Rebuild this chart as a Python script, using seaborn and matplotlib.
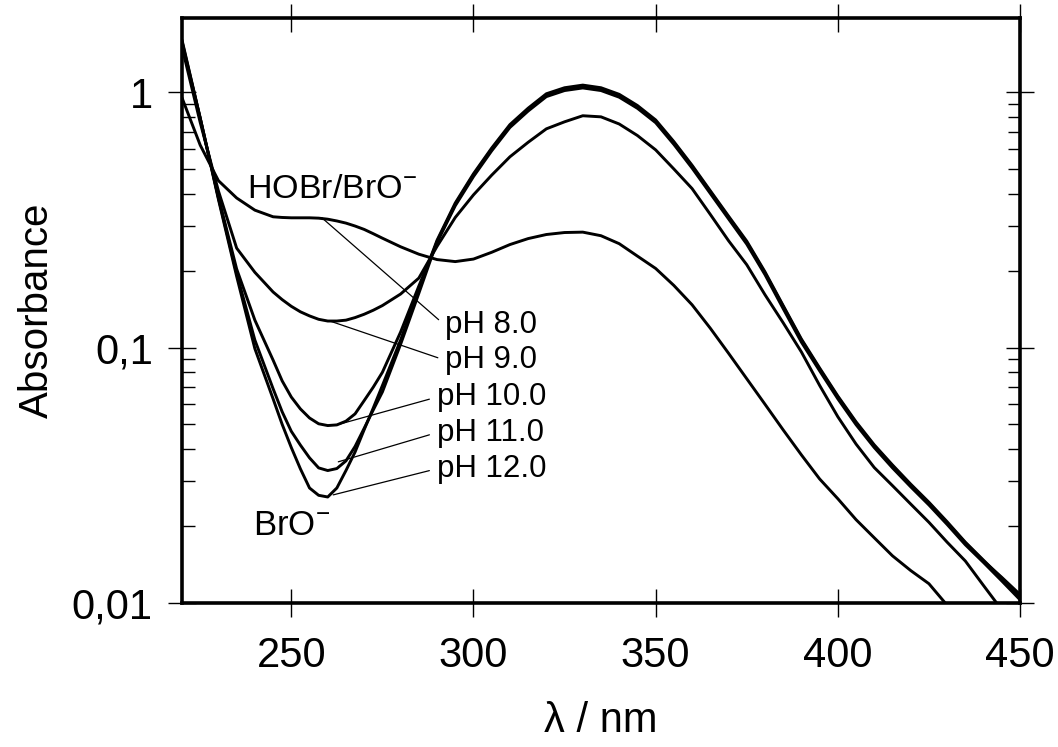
import numpy as np
import pandas as pd
import matplotlib
matplotlib.use("Agg")
import matplotlib.pyplot as plt
import matplotlib.ticker as mticker
import seaborn as sns

# ---------------- data ----------------
wavelength = [220, 225, 230, 235, 240, 245, 247.5, 250, 252.5, 255, 257.5, 260,
              262.5, 265, 267.5, 270, 272.5, 275, 280, 285, 290, 295, 300, 305,
              310, 315, 320, 325, 330, 335, 340, 345, 350, 355, 360, 365,
              370, 375, 380, 385, 390, 395, 400, 405, 410, 415,
              420, 425, 430, 435, 440, 445, 450]

abs_ph8 = [0.95, 0.62, 0.45, 0.385, 0.345, 0.325, 0.323, 0.322, 0.322, 0.322, 0.321, 0.318,
           0.313, 0.307, 0.299, 0.29, 0.279, 0.268, 0.248, 0.232, 0.221, 0.217, 0.222, 0.236,
           0.253, 0.267, 0.277, 0.282, 0.283, 0.274, 0.255, 0.228, 0.204, 0.175, 0.147, 0.119,
           0.095, 0.0755, 0.060, 0.0476, 0.038, 0.0306, 0.0256, 0.0212, 0.018, 0.0153,
           0.0134, 0.0119, 0.0098, 0.0085, 0.0075, 0.0068, 0.006]

abs_ph9 = [1.5, 0.76, 0.41, 0.245, 0.197, 0.165, 0.154, 0.145, 0.138, 0.133, 0.129, 0.127,
           0.127, 0.128, 0.131, 0.135, 0.140, 0.146, 0.162, 0.187, 0.249, 0.323, 0.396, 0.473,
           0.558, 0.636, 0.718, 0.765, 0.808, 0.80, 0.75, 0.676, 0.594, 0.50, 0.419, 0.332,
           0.262, 0.211, 0.161, 0.125, 0.0961, 0.0711, 0.0536, 0.0419, 0.0339, 0.0288,
           0.0244, 0.0207, 0.0173, 0.0146, 0.0117, 0.0094, 0.008]

abs_ph10 = [1.55, 0.79, 0.388, 0.203, 0.128, 0.0893, 0.074, 0.064, 0.0575, 0.053, 0.0503, 0.0495,
            0.0498, 0.0515, 0.055, 0.062, 0.070, 0.080, 0.115, 0.174, 0.258, 0.359, 0.467, 0.589,
            0.727, 0.843, 0.96, 1.014, 1.038, 1.014, 0.955, 0.864, 0.759, 0.624, 0.504, 0.401,
            0.319, 0.254, 0.193, 0.142, 0.105, 0.0811, 0.063, 0.0499, 0.0406, 0.0338,
            0.0285, 0.0242, 0.0203, 0.0169, 0.0144, 0.0122, 0.0103]

abs_ph11 = [1.58, 0.79, 0.385, 0.195, 0.107, 0.069, 0.056, 0.047, 0.0415, 0.037, 0.0338, 0.033,
            0.0336, 0.036, 0.041, 0.0483, 0.057, 0.067, 0.103, 0.163, 0.26, 0.364, 0.474, 0.598,
            0.738, 0.856, 0.975, 1.03, 1.054, 1.03, 0.97, 0.877, 0.770, 0.634, 0.512, 0.407,
            0.324, 0.258, 0.196, 0.145, 0.107, 0.0824, 0.064, 0.0507, 0.0412, 0.0344,
            0.0289, 0.0246, 0.0206, 0.0172, 0.0146, 0.0126, 0.0108]

abs_ph12 = [1.6, 0.79, 0.38, 0.19, 0.099, 0.063, 0.050, 0.0406, 0.0335, 0.0282, 0.0264, 0.026,
            0.0282, 0.033, 0.039, 0.0477, 0.058, 0.071, 0.107, 0.17, 0.263, 0.368, 0.479, 0.604,
            0.746, 0.865, 0.985, 1.04, 1.065, 1.04, 0.98, 0.886, 0.778, 0.640, 0.517, 0.411,
            0.327, 0.261, 0.198, 0.146, 0.108, 0.0832, 0.0646, 0.0512, 0.0416, 0.0347,
            0.0292, 0.0248, 0.0208, 0.0173, 0.0147, 0.0125, 0.0105]

ph_labels = ["pH 8.0", "pH 9.0", "pH 10.0", "pH 11.0", "pH 12.0"]
# leader-line anchor on each curve (wavelength, absorbance)
label_anchor_x = [258.4, 260.6, 262.5, 262.9, 261.5]
label_anchor_y = [0.322, 0.127, 0.0498, 0.0357, 0.0265]
# text position (left edge wavelength, baseline absorbance)
label_text_x = [292.2, 292.2, 289.9, 289.9, 289.9]
label_text_y = [0.1137, 0.0830, 0.0595, 0.0432, 0.0312]

x_ticks = [250, 300, 350, 400, 450]
y_ticks = [0.01, 0.1, 1]
y_tick_labels = ["0,01", "0,1", "1"]

# ---------------- build table ----------------
series = {"pH 8.0": abs_ph8, "pH 9.0": abs_ph9, "pH 10.0": abs_ph10,
          "pH 11.0": abs_ph11, "pH 12.0": abs_ph12}
df = pd.concat([pd.DataFrame({"wl": wavelength, "A": v, "pH": k})
                for k, v in series.items()], ignore_index=True)

# ---------------- style ----------------
sns.set_style("ticks")
plt.rcParams["font.family"] = ["Liberation Sans", "DejaVu Sans"]
plt.rcParams["mathtext.fontset"] = "custom"
plt.rcParams["mathtext.rm"] = "Liberation Sans"
plt.rcParams["mathtext.it"] = "Liberation Sans"
for key in ["text.color", "axes.labelcolor", "xtick.color", "ytick.color",
            "axes.edgecolor"]:
    plt.rcParams[key] = "black"

fig = plt.figure(figsize=(10.58, 7.47), dpi=100)
ax = fig.add_axes([182 / 1058, 144 / 747, 838 / 1058, 585 / 747])

sns.lineplot(data=df, x="wl", y="A", hue="pH", units="pH", estimator=None,
             palette=["black"] * 5, linewidth=2.1, legend=False, ax=ax,
             sort=False)

ax.set_yscale("log")
ax.set_xlim(220, 450)
ax.set_ylim(0.01, 1.95)

ax.set_xticks(x_ticks)
ax.set_xticklabels([str(t) for t in x_ticks])
ax.set_yticks(y_ticks)
ax.set_yticklabels(y_tick_labels)
ax.yaxis.set_minor_locator(mticker.LogLocator(base=10, subs=np.arange(2, 10)))
ax.yaxis.set_minor_formatter(mticker.NullFormatter())
ax.xaxis.set_minor_locator(mticker.NullLocator())

ax.tick_params(axis="x", which="major", direction="inout", length=20, width=1.0,
               top=True, bottom=True, labelsize=30, pad=14, color="black",
               labelcolor="black")
ax.tick_params(axis="y", which="major", direction="inout", length=20, width=1.0,
               left=True, right=True, labelsize=30, pad=11, color="black",
               labelcolor="black")
ax.tick_params(axis="y", which="minor", direction="in", length=9, width=1.0,
               left=True, right=True, color="black")

for s in ax.spines.values():
    s.set_linewidth(2.6)
    s.set_color("black")
    s.set_visible(True)

ax.set_xlabel("λ / nm", fontsize=30, color="black")
ax.set_ylabel("Absorbance", fontsize=29, color="black")
ax.xaxis.set_label_coords(0.5, -0.167)
ax.yaxis.set_label_coords(-0.151, 0.5)

# curve labels with leader lines
for lab, ax_x, ax_y, tx, ty in zip(ph_labels, label_anchor_x, label_anchor_y,
                                   label_text_x, label_text_y):
    ax.annotate(lab, xy=(ax_x, ax_y), xytext=(tx, ty), textcoords="data",
                fontsize=22.5, ha="left", va="baseline", color="black",
                arrowprops=dict(arrowstyle="-", lw=0.9, color="black",
                                relpos=(0, 0.5), shrinkA=3, shrinkB=0))

ax.text(237.8, 0.384, "HOBr/BrO$^{-}$", fontsize=24.5, ha="left",
        va="baseline", color="black")
ax.text(239.5, 0.0185, "BrO$^{-}$", fontsize=25, ha="left", va="baseline",
        color="black")

fig.savefig("out.png", dpi=100)
